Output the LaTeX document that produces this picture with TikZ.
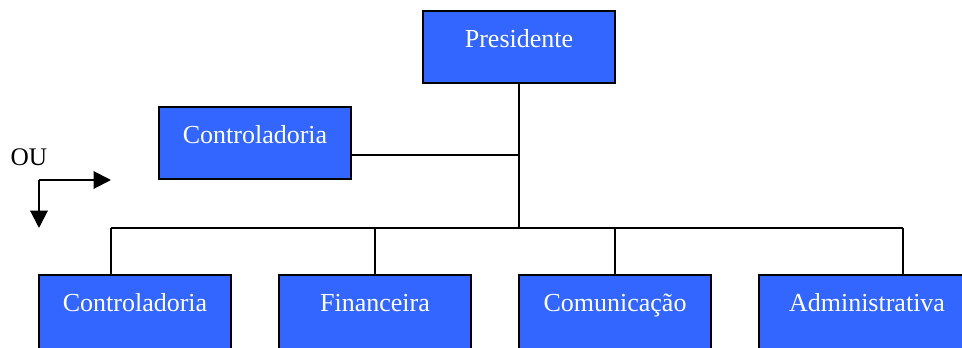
\documentclass[tikz,border=0pt]{standalone}
\usepackage{fontspec}
\setmainfont{Liberation Serif}
\usetikzlibrary{arrows.meta}
\definecolor{caixa}{HTML}{3366FF}
\tikzset{
    caixa/.style={draw=black, line width=1.5pt, fill=caixa, minimum width=144pt,
        minimum height=54pt, inner sep=0pt, outer sep=0pt},
    baixa/.style={caixa, minimum height=58.5pt},
    rotulo/.style={anchor=base, yshift=-27pt, text=white, inner sep=0pt,
        font=\fontsize{19.5}{23}\selectfont},
    linha/.style={line width=1.5pt},
    seta/.style={line width=1.5pt, -{Triangle[length=13pt,width=13pt]}}
}
\begin{document}
\begin{tikzpicture}[x=0.75pt, y=-0.75pt]
            \clip (0,0) rectangle (962,347);

            %caixas
            \node[caixa, label={[rotulo]north:Presidente}] (pres) at (519,47) {};
            \node[caixa, label={[rotulo]north:Controladoria}] (ctrl) at (255,143) {};
            \node[baixa, label={[rotulo]north:Controladoria}] (ctrlb) at (135,314) {};
            \node[baixa, label={[rotulo]north:Financeira}] (fin) at (375,314) {};
            \node[baixa, label={[rotulo]north:Comunicação}] (com) at (615,314) {};
            \node[baixa, minimum width=174pt, label={[rotulo, xshift=-6pt]north:Administrativa}] (adm) at (875,314) {};

            %barramento
            \coordinate (barE) at (111,228);
            \coordinate (barD) at (903,228);
            \draw[linha] (barE) -- (barD);
            \draw[linha] (pres.south) -- (pres.south |- barE);
            \draw[linha] ([yshift=-9pt]ctrl.east) -- ([yshift=-9pt]ctrl.east -| pres.south);
            \draw[linha] (barE) -- (barE |- ctrlb.north);
            \draw[linha] (fin.north) -- (fin.north |- barE);
            \draw[linha] (com.north) -- (com.north |- barE);
            \draw[linha] (barD) -- (barD |- adm.north);

            %OU com as setas
            \node[font=\fontsize{19}{23}\selectfont, anchor=base, inner sep=0pt] (ou) at (29,165) {OU};
            \coordinate (canto) at (39,180);
            \coordinate (dir) at (111,180);
            \coordinate (baixo) at (39,228);
            \draw[seta] (canto) -- (dir);
            \draw[seta] (canto) -- (baixo);
        \end{tikzpicture}
\end{document}
